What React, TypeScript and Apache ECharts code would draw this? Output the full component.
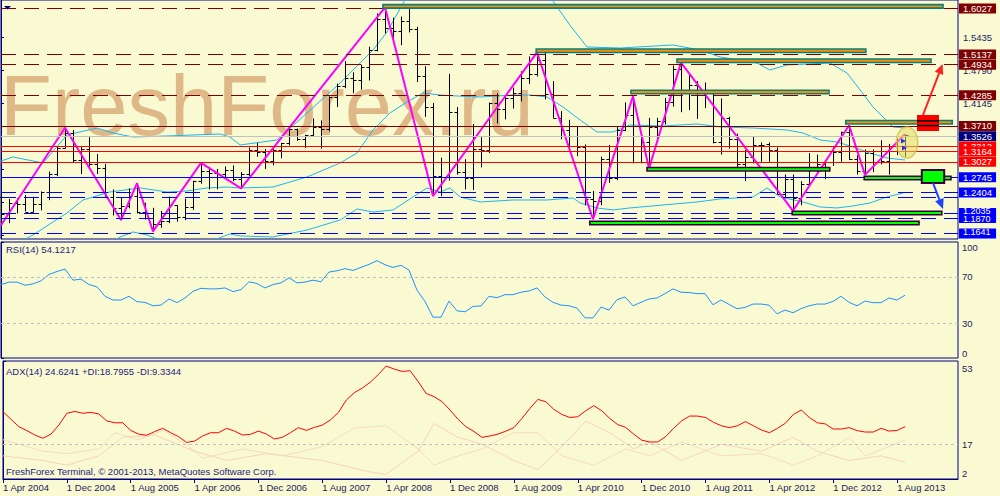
import React, { useEffect, useRef } from "react";
import * as echarts from "echarts";

const FONT = "'Liberation Sans', Arial, sans-serif";
const BG = "#FAFAD2";
const NAVY = "#000080";

// ---------- time axis ----------
const xTickIndex = [0, 8, 16, 24, 32, 40, 48, 56, 64, 72, 80, 88, 96, 104, 112];
const xTickLabels = [
  "1 Apr 2004", "1 Dec 2004", "1 Aug 2005", "1 Apr 2006", "1 Dec 2006",
  "1 Aug 2007", "1 Apr 2008", "1 Dec 2008", "1 Aug 2009", "1 Apr 2010",
  "1 Dec 2010", "1 Aug 2011", "1 Apr 2012", "1 Dec 2012", "1 Aug 2013",
];
const X_MAX = 119.625;

// ---------- monthly OHLC (Apr 2004 .. Sep 2013) ----------
const openP = [
  1.2316, 1.1975, 1.2200, 1.2170, 1.2025, 1.2170, 1.2410, 1.2760, 1.3260, 1.3560,
  1.3040, 1.3250, 1.2960, 1.2880, 1.2310, 1.2100, 1.2130, 1.2340, 1.2020, 1.1990,
  1.1790, 1.1840, 1.2150, 1.1920, 1.2120, 1.2620, 1.2820, 1.2790, 1.2760, 1.2830,
  1.2670, 1.2760, 1.3240, 1.3200, 1.3010, 1.3230, 1.3360, 1.3650, 1.3450, 1.3530,
  1.3690, 1.3640, 1.4260, 1.4490, 1.4630, 1.4590, 1.4860, 1.5180, 1.5790, 1.5620,
  1.5550, 1.5760, 1.5600, 1.4670, 1.4080, 1.2730, 1.2700, 1.3970, 1.2800, 1.2680,
  1.3250, 1.3230, 1.4150, 1.4030, 1.4250, 1.4340, 1.4630, 1.4720, 1.5000, 1.4330,
  1.3860, 1.3620, 1.3510, 1.3290, 1.2270, 1.2230, 1.3050, 1.2680, 1.3630, 1.3920,
  1.2990, 1.3380, 1.3690, 1.3800, 1.4160, 1.4810, 1.4400, 1.4500, 1.4400, 1.4360,
  1.3390, 1.3850, 1.3450, 1.2960, 1.3090, 1.3320, 1.3340, 1.3240, 1.2370, 1.2660,
  1.2300, 1.2570, 1.2860, 1.2960, 1.2990, 1.3190, 1.3580, 1.3060, 1.2820, 1.3170,
  1.3000, 1.3010, 1.3300, 1.3220,
];
const highP = [
  1.2390, 1.2275, 1.2290, 1.2350, 1.2315, 1.2420, 1.2810, 1.3300, 1.3667, 1.3620,
  1.3290, 1.3480, 1.3150, 1.2960, 1.2460, 1.2300, 1.2480, 1.2580, 1.2200, 1.2100,
  1.2040, 1.2320, 1.2150, 1.2280, 1.2630, 1.2980, 1.2900, 1.2860, 1.2910, 1.2930,
  1.2800, 1.3280, 1.3370, 1.3250, 1.3260, 1.3370, 1.3680, 1.3650, 1.3530, 1.3850,
  1.3810, 1.4280, 1.4530, 1.4970, 1.4750, 1.4900, 1.5250, 1.5900, 1.6020, 1.5820,
  1.5840, 1.6038, 1.5640, 1.4870, 1.4150, 1.3080, 1.4720, 1.4070, 1.3050, 1.3740,
  1.3480, 1.4160, 1.4340, 1.4300, 1.4450, 1.4770, 1.5060, 1.5140, 1.5130, 1.4580,
  1.3990, 1.3820, 1.3690, 1.3340, 1.2430, 1.3100, 1.3330, 1.3680, 1.4160, 1.4280,
  1.3500, 1.3860, 1.3860, 1.4250, 1.4880, 1.4940, 1.4700, 1.4580, 1.4550, 1.4360,
  1.4240, 1.3880, 1.3550, 1.3230, 1.3490, 1.3380, 1.3380, 1.3280, 1.2750, 1.2750,
  1.2620, 1.3170, 1.3140, 1.3010, 1.3310, 1.3590, 1.3711, 1.3130, 1.3240, 1.3240,
  1.3420, 1.3350, 1.3450, 1.3540,
];
const lowP = [
  1.1760, 1.1800, 1.1990, 1.2030, 1.2010, 1.2050, 1.2250, 1.2720, 1.3260, 1.2990,
  1.2760, 1.2880, 1.2760, 1.2300, 1.1950, 1.1860, 1.2090, 1.1990, 1.1870, 1.1640,
  1.1710, 1.1800, 1.1830, 1.1860, 1.2060, 1.2570, 1.2460, 1.2460, 1.2680, 1.2620,
  1.2480, 1.2720, 1.3100, 1.2860, 1.2930, 1.3070, 1.3320, 1.3410, 1.3270, 1.3500,
  1.3260, 1.3590, 1.4070, 1.4440, 1.4340, 1.4410, 1.4590, 1.5160, 1.5510, 1.5370,
  1.5280, 1.5530, 1.4560, 1.3880, 1.2330, 1.2330, 1.2630, 1.2750, 1.2460, 1.2450,
  1.2890, 1.3170, 1.3750, 1.3830, 1.4040, 1.4180, 1.4520, 1.4670, 1.4220, 1.3860,
  1.3440, 1.3270, 1.3110, 1.2150, 1.1876, 1.2150, 1.2590, 1.2640, 1.3600, 1.2970,
  1.2970, 1.2870, 1.3430, 1.3730, 1.4080, 1.3970, 1.4010, 1.3840, 1.4050, 1.3360,
  1.3140, 1.3260, 1.2860, 1.2620, 1.2970, 1.3000, 1.3000, 1.2360, 1.2290, 1.2042,
  1.2150, 1.2520, 1.2800, 1.2660, 1.2920, 1.3000, 1.3040, 1.2750, 1.2745, 1.2800,
  1.2950, 1.2750, 1.3130, 1.3100,
];
const closeP = [
  1.1975, 1.2200, 1.2170, 1.2025, 1.2170, 1.2410, 1.2760, 1.3260, 1.3560, 1.3040,
  1.3250, 1.2960, 1.2880, 1.2310, 1.2100, 1.2130, 1.2340, 1.2020, 1.1990, 1.1790,
  1.1840, 1.2150, 1.1920, 1.2120, 1.2620, 1.2820, 1.2790, 1.2760, 1.2830, 1.2670,
  1.2760, 1.3240, 1.3200, 1.3010, 1.3230, 1.3360, 1.3650, 1.3450, 1.3530, 1.3690,
  1.3640, 1.4260, 1.4490, 1.4630, 1.4590, 1.4860, 1.5180, 1.5790, 1.5620, 1.5550,
  1.5760, 1.5600, 1.4670, 1.4080, 1.2730, 1.2700, 1.3970, 1.2800, 1.2680, 1.3250,
  1.3230, 1.4150, 1.4030, 1.4250, 1.4340, 1.4630, 1.4720, 1.5000, 1.4330, 1.3860,
  1.3620, 1.3510, 1.3290, 1.2270, 1.2230, 1.3050, 1.2680, 1.3630, 1.3920, 1.2990,
  1.3380, 1.3690, 1.3800, 1.4160, 1.4810, 1.4400, 1.4500, 1.4400, 1.4360, 1.3390,
  1.3850, 1.3450, 1.2960, 1.3090, 1.3320, 1.3330, 1.3240, 1.2370, 1.2660, 1.2300,
  1.2570, 1.2860, 1.2960, 1.2990, 1.3190, 1.3580, 1.3060, 1.2820, 1.3170, 1.3000,
  1.3010, 1.3300, 1.3220, 1.3526,
];

// ---------- zigzag pivots ----------
const zigzagIdx = [0, 8, 15, 17, 19, 25, 30, 48, 54, 67, 74, 79, 81, 85, 99, 106, 108, 113];
const zigzagPrice = [
  1.1760, 1.3667, 1.1860, 1.2580, 1.1640, 1.2980, 1.2480, 1.6020, 1.2330,
  1.5140, 1.1876, 1.4280, 1.2870, 1.4940, 1.2042, 1.3711, 1.2745, 1.3540,
];

// ---------- bands (at [month index, price]) ----------
const bandUpper: [number, number][] = [
  [0, 1.3016], [1.5, 1.3094], [5.25, 1.2977], [8.25, 1.3524], [12, 1.3661], [14, 1.3563],
  [16.5, 1.3485], [20.75, 1.3505], [27.4, 1.3544], [28.6, 1.3485], [29.9, 1.3329],
  [34.5, 1.3426], [38.25, 1.3954], [42.4, 1.4541], [46.5, 1.5186], [48.25, 1.5538],
  [50.5, 1.6164], [54.9, 1.6223], [59.9, 1.632], [64.9, 1.6359], [68.9, 1.6164],
  [71.1, 1.5675], [73.25, 1.5245], [77.4, 1.5225], [84, 1.5284], [87.4, 1.5186],
  [89.9, 1.5049], [94.5, 1.4932], [96.1, 1.4795], [98.25, 1.4893], [103.6, 1.4932],
  [105.75, 1.4736], [107.4, 1.4404], [109, 1.4072], [111.5, 1.368], [113, 1.3661],
];
const bandMiddle: [number, number][] = [
  [0, 1.1236], [4, 1.1569], [8.25, 1.2], [10.25, 1.2253], [13.6, 1.2409], [17.4, 1.2488],
  [20.75, 1.2409], [23.25, 1.2429], [25.75, 1.2488], [28.25, 1.2507], [29.9, 1.2488],
  [34, 1.2507], [38.25, 1.2703], [42.4, 1.2977], [44.5, 1.3172], [46.5, 1.3622],
  [48.6, 1.3954], [50.75, 1.4169], [52.75, 1.4345], [54.9, 1.4306], [57, 1.4287],
  [59.9, 1.4267], [64, 1.4306], [66.1, 1.4306], [68.25, 1.4267], [70.25, 1.4071],
  [72.4, 1.3817], [74.5, 1.3583], [76.5, 1.3583], [78.6, 1.372], [82.75, 1.37],
  [87, 1.3739], [89.9, 1.3681], [94, 1.3661], [98.25, 1.3622], [100.25, 1.3563],
  [102.4, 1.3426], [104.5, 1.3387], [106.5, 1.329], [108.6, 1.3172], [110.75, 1.3074],
  [113, 1.3035],
];
const bandLower: [number, number][] = [
  [12.4, 1.1275], [14.9, 1.1529], [16.5, 1.1627], [18.25, 1.1569], [20.5, 1.1432],
  [24.9, 1.1373], [28.6, 1.1588], [29.9, 1.1549], [34, 1.153], [38.25, 1.1666],
  [42.4, 1.1862], [44.5, 1.2077], [46.5, 1.2018], [49, 1.2058], [51.5, 1.2312],
  [53.25, 1.2488], [54.9, 1.2409], [56.1, 1.2488], [57.4, 1.2312], [59.9, 1.2214],
  [64, 1.2253], [68.25, 1.2253], [71.5, 1.2292], [72.4, 1.2194], [74.5, 1.2097],
  [76.5, 1.2058], [78.6, 1.2097], [82.75, 1.2155], [87, 1.2214], [89.9, 1.2273],
  [94, 1.2312], [95.75, 1.2488], [97.4, 1.2312], [100.25, 1.2214], [102.4, 1.2116],
  [104.5, 1.2097], [106.5, 1.2136], [108.6, 1.2194], [110.75, 1.2312], [112.75, 1.239],
];

// ---------- horizontal price levels ----------
const levelPrices = [
  1.6027, 1.5137, 1.4934, 1.4285, 1.3710, 1.3526, 1.3312, 1.3027, 1.3164,
  1.2745, 1.2310, 1.2404, 1.2035, 1.1870, 1.1641,
];
const levelKinds = [
  "resDash", "resDash", "resDash", "resDash", "resSolid", "current", "red", "red", "red",
  "supSolid", "supDash", "supDash", "supDash", "supDash", "supDash",
];
const levelLabelled = [
  true, true, true, true, true, true, true, true, true,
  true, false, true, true, true, true,
];
// levels whose label text is drawn on a separate layer above the merged boxes
const levelTextOnTop = [1.2035, 1.1870, 1.1641];
const levelTextNudge = [-1.5, 0.5, -1];
const priceTicks = [1.1565, 1.2210, 1.2855, 1.3500, 1.4145, 1.4790, 1.5435];
const priceTickLabels = [1.4145, 1.4790, 1.5435];

// ---------- level bars (start index, end index, price, kind) ----------
const barStart = [47.75, 66.9, 84.5, 78.75, 105.6, 80.75, 107.9, 98.9, 73.6];
const barEnd = [117.75, 108.1, 116.25, 103.5, 118.9, 103.6, 118.75, 117.6, 114.75];
const barPrice = [1.6040, 1.5171, 1.4975, 1.4365, 1.3774, 1.2853, 1.2683, 1.1999, 1.1803];
const barKind = [0, 0, 0, 0, 0, 1, 1, 1, 1];

// ---------- annotations (index / price corners) ----------
const annoKind = ["glow", "redBox", "redArrow", "greenBox", "blueArrow"];
const annoI1 = [111.9, 114.5, 115.25, 115.1, 116.5];
const annoP1 = [1.3680, 1.3915, 1.3915, 1.2840, 1.2585];
const annoI2 = [114.6, 117.25, 117.7, 117.9, 117.75];
const annoP2 = [1.3074, 1.3602, 1.4912, 1.2586, 1.2077];

// ---------- RSI(14) ----------
const rsiValues = [
  63.3, 65.4, 65.4, 62.7, 63.9, 66.5, 72, 74.6, 76.7, 67.1,
  68, 63.3, 61.3, 53.2, 50, 50, 53.2, 48.5, 48, 45,
  45.6, 50.9, 47.7, 51.7, 57.5, 60.1, 59.6, 59.6, 60.4, 57.2,
  59, 65.7, 64.2, 60.4, 63.3, 64.8, 69.1, 64.8, 65.4, 67.1,
  65.7, 74.1, 75.2, 77, 75.5, 78.1, 80.7, 83.9, 80.4, 78.1,
  79.9, 75.8, 58.4, 48.8, 35.2, 35.2, 49.1, 40.7, 39.8, 44.5,
  44.8, 53.2, 52, 54.6, 54.6, 56.7, 57.8, 60.4, 52.6, 48,
  45.6, 45, 43, 34.6, 34.6, 43.9, 41.3, 50.3, 52.6, 45,
  48, 50.9, 51.7, 55.5, 59.6, 56.7, 56.4, 55.5, 55.5, 45.9,
  50, 46.2, 42.5, 43.6, 46.5, 46.5, 45.6, 38.1, 41.3, 39,
  42.5, 45, 46.5, 46.5, 48.8, 53.2, 48, 45, 49.1, 47.7,
  47.7, 51.7, 50, 54.1217,
];
const rsiTicks = [0, 30, 70, 100];
const rsiLevels = [70, 30];

// ---------- ADX(14) ----------
const adxValues = [
  31.1, 27.8, 24.6, 22.9, 21, 19.6, 21.4, 25.3, 30.4, 31.2,
  30.4, 30.8, 30.1, 27.1, 26.3, 26.3, 23, 21.4, 20.9, 22.5,
  23.9, 22, 20.3, 17.8, 18.4, 20.6, 22, 22, 23.9, 22.7,
  21, 21.3, 22.7, 21.4, 19.3, 20, 22, 24.2, 23, 24.3,
  25.3, 27.5, 30.7, 36.1, 39.3, 41.3, 43.8, 47.1, 50.8, 49.5,
  48.5, 48.8, 44.1, 39, 37.6, 35.4, 31.8, 27.8, 24.6, 22.5,
  20, 20.6, 21.4, 22.7, 24.2, 28.2, 32.5, 36.4, 35.4, 32.1,
  29.9, 28.6, 28.9, 31.5, 33.7, 31.5, 28.2, 25.5, 24.3, 21.4,
  18.8, 18, 18, 20.3, 23.9, 27.1, 29.2, 29.2, 28.6, 26.5,
  25, 24.2, 25, 26.8, 25, 23.2, 22, 23.9, 26.1, 29.9,
  31.8, 28.6, 26.3, 25.8, 23.6, 23.6, 24.2, 22.9, 22.3, 22.3,
  23.9, 22.7, 23, 24.6241,
];
const plusDI: [number, number][] = [
  [0, 19], [5, 14], [8, 13], [12, 15], [14, 22], [17, 19], [20, 23], [23, 17], [25, 11],
  [30, 15], [35, 12], [40, 16], [44, 24], [48, 25], [52, 15], [54, 8], [57, 12], [60, 15],
  [64, 22], [67, 22], [70, 12], [74, 8], [78, 15], [81, 12], [85, 18], [90, 12], [95, 13],
  [99, 8], [102, 12], [106, 20], [108, 12], [113, 18.8],
];
const minusDI: [number, number][] = [
  [0, 12], [5, 10], [8, 8], [12, 12], [15, 20], [19, 21], [24, 14], [28, 10], [33, 13],
  [40, 10], [46, 5], [48, 4], [52, 14], [54, 26], [57, 20], [60, 17], [64, 10], [67, 6],
  [70, 16], [73, 27], [76, 22], [79, 15], [81, 18], [85, 10], [90, 17], [95, 14], [99, 20],
  [102, 14], [106, 10], [110, 12], [113, 9.3],
];
const adxTicks = [2, 17, 53];
const adxLevels = [17];

const LEVEL_STYLE: Record<string, { line: string; dash: boolean; bg: string }> = {
  resDash: { line: "#800000", dash: true, bg: "#800000" },
  resSolid: { line: "#800000", dash: false, bg: "#800000" },
  current: { line: "#c0c0c0", dash: false, bg: "#000080" },
  red: { line: "#ff0000", dash: false, bg: "#ff0000" },
  supSolid: { line: "#0000ff", dash: false, bg: "#0000ff" },
  supDash: { line: "#0000ff", dash: true, bg: "#0000ff" },
};

function buildOption(): any {
  const textBase = { fontFamily: FONT, fontSize: 9.5, color: "#1a1a5e" };
  const ohlc = openP.map((o, i) => [i, o, highP[i], lowP[i], closeP[i]]);
  const levelLabelBase = {
    position: "end",
    distance: 1,
    padding: [1, 4, 0, 4],
    lineHeight: 9,
    fontSize: 9.5,
    fontFamily: FONT,
  };

  const xAxes = [0, 1, 2].map((g) => ({
    type: "value",
    gridIndex: g,
    min: 0,
    max: X_MAX,
    show: g === 2,
    splitLine: { show: false },
    axisLine: { show: true, lineStyle: { color: NAVY, width: 1 } },
    axisTick: { show: true, customValues: xTickIndex, length: 4, lineStyle: { color: NAVY } },
    axisLabel: {
      ...textBase,
      customValues: xTickIndex,
      align: "left",
      margin: 3,
      formatter: (v: number) => {
        const k = xTickIndex.indexOf(Math.round(v));
        return k >= 0 ? xTickLabels[k] : "";
      },
    },
  }));

  const yBase = {
    type: "value",
    position: "right",
    splitLine: { show: false },
    axisLine: { show: true, lineStyle: { color: NAVY, width: 1 } },
  };

  return {
    animation: false,
    backgroundColor: BG,
    textStyle: { fontFamily: FONT },
    grid: [
      { left: 1, top: 0, width: 957, height: 239, show: true, borderColor: NAVY, borderWidth: 1 },
      { left: 1, top: 242, width: 957, height: 116, show: true, borderColor: NAVY, borderWidth: 1 },
      { left: 1, top: 361, width: 957, height: 118, show: true, borderColor: NAVY, borderWidth: 1 },
    ],
    xAxis: xAxes,
    yAxis: [
      {
        ...yBase,
        gridIndex: 0,
        min: 1.149,
        max: 1.6164,
        axisTick: { show: true, customValues: priceTicks, length: 3, lineStyle: { color: NAVY } },
        axisLabel: { ...textBase, customValues: priceTickLabels, margin: 5, formatter: (v: number) => v.toFixed(4) },
      },
      {
        ...yBase,
        gridIndex: 1,
        min: 0,
        max: 100,
        axisTick: { show: true, customValues: rsiTicks, length: 3, lineStyle: { color: NAVY } },
        axisLabel: {
          ...textBase,
          customValues: rsiTicks,
          margin: 4,
          formatter: (v: number) => (v === 100 ? "{t|100}" : v === 0 ? "{b|0}" : String(v)),
          rich: { t: { ...textBase, padding: [10, 0, 0, 0] }, b: { ...textBase, padding: [0, 0, 10, 0] } },
        },
      },
      {
        ...yBase,
        gridIndex: 2,
        min: 2,
        max: 53,
        axisTick: { show: true, customValues: adxTicks, length: 3, lineStyle: { color: NAVY } },
        axisLabel: {
          ...textBase,
          customValues: adxTicks,
          margin: 4,
          formatter: (v: number) => (v === 53 ? "{t|53}" : v === 2 ? "{b|2}" : String(v)),
          rich: { t: { ...textBase, padding: [14, 0, 0, 0] }, b: { ...textBase, padding: [0, 0, 12, 0] } },
        },
      },
    ],
    graphic: [
      {
        type: "text",
        x: 0,
        y: 105,
        z: 0,
        silent: true,
        style: { text: "FreshForex.ru", fontSize: 85, fontFamily: FONT, fill: "#deb887", verticalAlign: "middle", align: "left" },
      },
      {
        type: "polygon",
        z: 10,
        silent: true,
        shape: { points: [[4, 6], [11, 6], [7.5, 9.5]] },
        style: { fill: NAVY },
      },
      {
        type: "text", x: 6, y: 249, z: 10, silent: true,
        style: { text: "RSI(14) 54.1217", fontSize: 9.5, fontFamily: FONT, fill: "#1a1a7e", verticalAlign: "middle" },
      },
      {
        type: "text", x: 6, y: 371, z: 10, silent: true,
        style: { text: "ADX(14) 24.6241 +DI:18.7955 -DI:9.3344", fontSize: 9.5, fontFamily: FONT, fill: "#1a1a7e", verticalAlign: "middle" },
      },
      {
        type: "text", x: 6, y: 471, z: 10, silent: true,
        style: { text: "FreshForex Terminal, \u00a9 2001-2013, MetaQuotes Software Corp.", fontSize: 9.5, fontFamily: FONT, fill: "#1a1a7e", verticalAlign: "middle" },
      },
    ],
    series: [
      {
        type: "line",
        name: "levels",
        xAxisIndex: 0,
        yAxisIndex: 0,
        data: [],
        z: 1,
        markLine: {
          silent: true,
          symbol: ["none", "none"],
          animation: false,
          emphasis: { disabled: true },
          data: levelPrices.map((p, k) => {
            const st = LEVEL_STYLE[levelKinds[k]];
            const textLater = levelTextOnTop.indexOf(p) >= 0;
            return {
              yAxis: p,
              lineStyle: { color: st.line, type: st.dash ? [15, 8] : "solid", width: 1 },
              label: {
                ...levelLabelBase,
                show: levelLabelled[k],
                formatter: p.toFixed(4),
                color: textLater ? "rgba(0,0,0,0)" : "#ffffff",
                backgroundColor: st.bg,
              },
            };
          }),
        },
      },
      {
        type: "line",
        name: "levelText",
        xAxisIndex: 0,
        yAxisIndex: 0,
        data: [],
        z: 8,
        markLine: {
          silent: true,
          symbol: ["none", "none"],
          animation: false,
          emphasis: { disabled: true },
          data: levelTextOnTop.map((p, k) => ({
            yAxis: p,
            lineStyle: { color: "rgba(0,0,0,0)", width: 1 },
            label: {
              ...levelLabelBase,
              show: true,
              fontSize: 9,
              lineHeight: 8,
              offset: [0, levelTextNudge[k]],
              formatter: p.toFixed(4),
              color: "#ffffff",
            },
          })),
        },
      },
      ...[bandUpper, bandMiddle, bandLower].map((band) => ({
        type: "line",
        xAxisIndex: 0,
        yAxisIndex: 0,
        data: band,
        z: 2,
        clip: true,
        symbol: "none",
        silent: true,
        lineStyle: { color: "#1eb4f0", width: 1 },
      })),
      {
        type: "custom",
        name: "ohlc",
        xAxisIndex: 0,
        yAxisIndex: 0,
        z: 3,
        silent: true,
        data: ohlc,
        encode: { x: 0, y: [1, 2, 3, 4] },
        renderItem: (_p: any, api: any) => {
          const i = api.value(0);
          const pO = api.coord([i, api.value(1)]);
          const pH = api.coord([i, api.value(2)]);
          const pL = api.coord([i, api.value(3)]);
          const pC = api.coord([i, api.value(4)]);
          const x = Math.round(pH[0]) + 0.5;
          const st = { stroke: "#000000", lineWidth: 1 };
          return {
            type: "group",
            children: [
              { type: "line", shape: { x1: x, y1: pH[1], x2: x, y2: pL[1] }, style: st },
              { type: "line", shape: { x1: x - 3, y1: Math.round(pO[1]) + 0.5, x2: x, y2: Math.round(pO[1]) + 0.5 }, style: st },
              { type: "line", shape: { x1: x, y1: Math.round(pC[1]) + 0.5, x2: x + 3, y2: Math.round(pC[1]) + 0.5 }, style: st },
            ],
          };
        },
      },
      {
        type: "line",
        name: "zigzag",
        xAxisIndex: 0,
        yAxisIndex: 0,
        z: 4,
        silent: true,
        symbol: "none",
        data: zigzagIdx.map((i, k) => [i, zigzagPrice[k]]),
        lineStyle: { color: "#ff00ff", width: 2 },
      },
      {
        type: "custom",
        name: "levelBars",
        xAxisIndex: 0,
        yAxisIndex: 0,
        z: 5,
        silent: true,
        data: barStart.map((s, k) => [s, barEnd[k], barPrice[k], barKind[k]]),
        encode: { x: [0, 1], y: 2 },
        renderItem: (_p: any, api: any) => {
          const a = api.coord([api.value(0), api.value(2)]);
          const b = api.coord([api.value(1), api.value(2)]);
          const green = api.value(3) === 1;
          return {
            type: "rect",
            shape: { x: a[0], y: a[1] - 1.75, width: b[0] - a[0], height: 3.5 },
            style: {
              fill: green ? "#00ff00" : "#ff8c00",
              stroke: green ? "#3c003c" : "#008080",
              lineWidth: 1.6,
            },
          };
        },
      },
      {
        type: "custom",
        name: "annotations",
        xAxisIndex: 0,
        yAxisIndex: 0,
        z: 6,
        silent: true,
        data: annoI1.map((i, k) => [i, annoP1[k], annoI2[k], annoP2[k]]),
        encode: { x: [0, 2], y: [1, 3] },
        renderItem: (params: any, api: any) => {
          const kind = annoKind[params.dataIndex];
          const a = api.coord([api.value(0), api.value(1)]);
          const b = api.coord([api.value(2), api.value(3)]);
          const x0 = Math.min(a[0], b[0]), x1 = Math.max(a[0], b[0]);
          const y0 = Math.min(a[1], b[1]), y1 = Math.max(a[1], b[1]);
          if (kind === "glow") {
            const cx = (x0 + x1) / 2, cy = (y0 + y1) / 2;
            return {
              type: "group",
              children: [
                {
                  type: "ellipse",
                  shape: { cx, cy, rx: (x1 - x0) / 2, ry: (y1 - y0) / 2 },
                  style: { fill: "rgba(228,220,96,0.55)", stroke: "rgba(200,190,70,0.7)", lineWidth: 1.5 },
                },
                { type: "polygon", shape: { points: [[cx - 6, cy - 4], [cx - 1, cy - 1.5], [cx - 6, cy + 1]] }, style: { fill: "#2030ff" } },
                { type: "polygon", shape: { points: [[cx - 5, cy + 3], [cx, cy + 5.5], [cx - 5, cy + 8]] }, style: { fill: "#2030ff" } },
              ],
            };
          }
          if (kind === "redBox") {
            const h = y1 - y0;
            return {
              type: "group",
              children: [
                { type: "rect", shape: { x: x0, y: y0, width: x1 - x0, height: h }, style: { fill: "#ff0000" } },
                { type: "line", shape: { x1: x0, y1: y0 + h * 0.37, x2: x1, y2: y0 + h * 0.37 }, style: { stroke: "#000", lineWidth: 1.5 } },
                { type: "line", shape: { x1: x0, y1: y0 + h * 0.66, x2: x1, y2: y0 + h * 0.66 }, style: { stroke: "#000", lineWidth: 1.5 } },
              ],
            };
          }
          if (kind === "greenBox") {
            return {
              type: "rect",
              shape: { x: x0, y: y0, width: x1 - x0, height: y1 - y0 },
              style: { fill: "#00ff00", stroke: "#3c003c", lineWidth: 2 },
            };
          }
          const color = kind === "redArrow" ? "#ff2020" : "#2040ff";
          const dx = b[0] - a[0], dy = b[1] - a[1];
          const len = Math.sqrt(dx * dx + dy * dy);
          const ux = dx / len, uy = dy / len;
          const nx = -uy, ny = ux;
          const hb = [b[0] - ux * 10, b[1] - uy * 10];
          return {
            type: "group",
            children: [
              { type: "line", shape: { x1: a[0], y1: a[1], x2: hb[0], y2: hb[1] }, style: { stroke: color, lineWidth: 2 } },
              {
                type: "polygon",
                shape: { points: [[b[0], b[1]], [hb[0] + nx * 4.5, hb[1] + ny * 4.5], [hb[0] - nx * 4.5, hb[1] - ny * 4.5]] },
                style: { fill: color },
              },
            ],
          };
        },
      },
      {
        type: "line",
        name: "RSI",
        xAxisIndex: 1,
        yAxisIndex: 1,
        silent: true,
        symbol: "none",
        data: rsiValues.map((v, i) => [i, v]),
        lineStyle: { color: "#1e90ff", width: 1 },
        markLine: {
          silent: true,
          symbol: ["none", "none"],
          label: { show: false },
          lineStyle: { color: "#c0c0c0", type: [3, 3], width: 1 },
          data: rsiLevels.map((v) => ({ yAxis: v })),
        },
      },
      {
        type: "line",
        name: "+DI",
        xAxisIndex: 2,
        yAxisIndex: 2,
        silent: true,
        symbol: "none",
        data: plusDI,
        lineStyle: { color: "#f3dcc0", width: 1 },
      },
      {
        type: "line",
        name: "-DI",
        xAxisIndex: 2,
        yAxisIndex: 2,
        silent: true,
        symbol: "none",
        data: minusDI,
        lineStyle: { color: "#f6d2bc", width: 1 },
      },
      {
        type: "line",
        name: "ADX",
        xAxisIndex: 2,
        yAxisIndex: 2,
        silent: true,
        symbol: "none",
        data: adxValues.map((v, i) => [i, v]),
        lineStyle: { color: "#ff0000", width: 1 },
        markLine: {
          silent: true,
          symbol: ["none", "none"],
          label: { show: false },
          lineStyle: { color: "#c0c0c0", type: [3, 3], width: 1 },
          data: adxLevels.map((v) => ({ yAxis: v })),
        },
      },
    ],
  };
}

export default function App() {
  const ref = useRef<HTMLDivElement>(null);
  useEffect(() => {
    if (!ref.current) return;
    const chart = echarts.init(ref.current, null, { renderer: "svg" });
    chart.setOption(buildOption());
    return () => chart.dispose();
  }, []);
  return (
    <div
      ref={ref}
      style={{ position: "fixed", left: 0, top: 0, width: 1000, height: 496, background: BG }}
    />
  );
}
